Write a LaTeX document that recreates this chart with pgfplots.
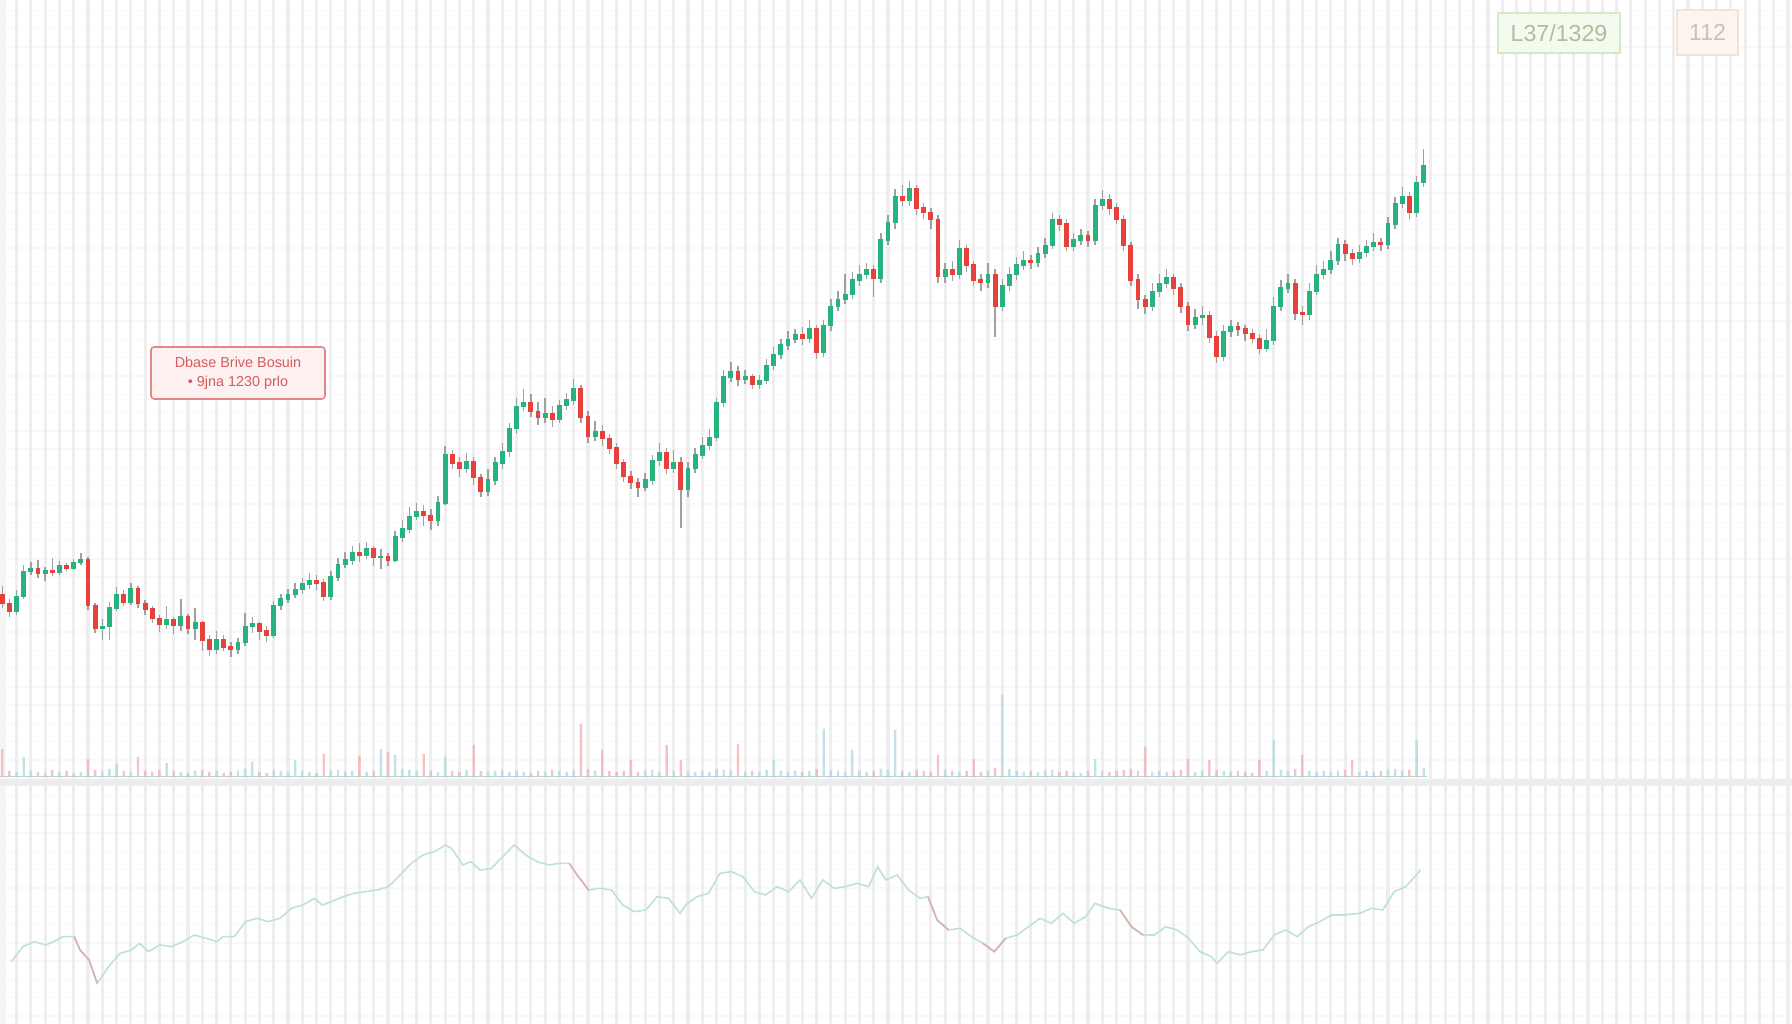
\documentclass[border=0pt]{standalone}
\usepackage{pgfplots}
\usepackage{pgfplotstable}
\pgfplotsset{compat=1.18}
\usepackage{fontspec}
\setmainfont{Liberation Sans}
\definecolor{cgreen}{HTML}{26B37D}
\definecolor{cred}{HTML}{E8413C}
\definecolor{cwick}{HTML}{A0A0A0}
\definecolor{gridv}{HTML}{EEEEEE}
\definecolor{gridh}{HTML}{F8F8F8}
\definecolor{cvolg}{HTML}{A8D6E1}
\definecolor{cvolr}{HTML}{F2AAAA}
\definecolor{cbase}{HTML}{BCD0D6}
\definecolor{gband}{HTML}{EDEDED}
\definecolor{cind}{HTML}{BFE3D2}
\definecolor{cindr}{HTML}{DDB0B0}
\definecolor{lbgreen}{HTML}{D6E9C4}
\definecolor{lbgreenfill}{HTML}{F5FAEF}
\definecolor{ltgreen}{HTML}{AEBE9E}
\definecolor{lborange}{HTML}{F4E1D3}
\definecolor{lborangefill}{HTML}{FCF4EE}
\definecolor{ltorange}{HTML}{CCC0B8}
\definecolor{annborder}{HTML}{E38686}
\definecolor{annfill}{HTML}{FDF1F1}
\definecolor{anntext}{HTML}{D45C5C}

\pgfplotstableread{
i o h l c v
0 480 487 468 472 28
1 472 476 460 465 6
2 465 484 462 478 5
3 478 506 476 500 20
4 500 508 497 502 6
5 502 510 494 498 5
6 498 504 492 501 4
7 501 512 496 499 7
8 499 509 497 505 5
9 505 507 500 503 6
10 503 511 501 508 4
11 508 516 506 510 5
12 510 513 466 470 18
13 470 472 446 450 7
14 450 458 440 452 6
15 452 473 440 468 8
16 468 486 465 480 13
17 480 484 470 473 6
18 473 490 471 485 5
19 485 487 468 472 20
20 472 475 462 467 6
21 467 470 455 459 5
22 459 462 447 454 7
23 454 470 450 458 14
24 458 460 445 453 6
25 453 476 448 460 5
26 460 463 445 450 4
27 450 468 440 455 6
28 455 457 430 440 7
29 440 444 426 432 5
30 432 448 428 440 6
31 440 444 430 434 4
32 434 438 425 432 5
33 432 442 428 438 6
34 438 464 435 452 8
35 452 460 446 454 15
36 454 456 440 448 5
37 448 452 438 444 4
38 444 474 442 470 7
39 470 480 466 476 6
40 476 485 472 480 5
41 480 490 477 484 17
42 484 494 480 489 6
43 489 499 485 492 5
44 492 497 484 490 4
45 490 493 474 478 23
46 478 500 475 495 6
47 495 512 492 506 7
48 506 517 503 510 5
49 510 522 506 516 6
50 516 525 508 514 21
51 514 526 511 520 5
52 520 522 505 512 6
53 512 520 502 513 28
54 513 516 505 510 25
55 510 535 508 530 22
56 530 545 526 537 8
57 537 556 534 548 7
58 548 560 545 552 6
59 552 558 540 549 23
60 549 555 536 545 6
61 545 566 540 560 5
62 560 610 558 602 20
63 602 606 590 595 6
64 595 600 583 590 5
65 590 604 586 596 7
66 596 600 576 582 32
67 582 585 565 570 6
68 570 590 566 580 5
69 580 600 576 595 6
70 595 612 590 605 7
71 605 630 600 625 5
72 625 652 620 644 6
73 644 660 640 648 5
74 648 655 635 640 4
75 640 648 628 635 6
76 635 652 630 638 5
77 638 645 626 633 7
78 633 650 630 645 6
79 645 656 641 650 5
80 650 668 646 660 7
81 660 663 630 635 53
82 635 640 612 618 8
83 618 632 614 622 6
84 622 628 610 616 27
85 616 620 603 608 6
86 608 612 590 595 5
87 595 598 578 583 6
88 583 588 572 578 17
89 578 582 565 574 5
90 574 586 570 580 6
91 580 602 576 597 7
92 597 612 592 604 5
93 604 608 585 590 32
94 590 606 586 595 6
95 595 600 538 572 17
96 572 596 565 590 6
97 590 608 586 602 5
98 602 618 598 610 6
99 610 625 606 617 5
100 617 652 614 648 8
101 648 676 644 670 7
102 670 683 666 675 6
103 675 680 662 668 33
104 668 676 664 670 5
105 670 673 660 664 6
106 664 672 660 667 5
107 667 686 664 680 7
108 680 696 676 690 17
109 690 703 686 698 6
110 698 710 694 703 5
111 703 712 700 707 6
112 707 714 698 704 5
113 704 720 700 712 6
114 712 716 686 692 8
115 692 720 688 715 48
116 715 738 710 732 7
117 732 745 728 738 6
118 738 760 734 742 5
119 742 762 738 755 27
120 755 768 750 760 6
121 760 770 756 764 5
122 764 768 740 756 6
123 756 796 752 790 8
124 790 812 786 805 7
125 805 835 800 828 47
126 828 838 820 825 6
127 825 842 820 835 5
128 835 838 812 818 7
129 818 822 808 814 6
130 814 818 800 808 5
131 808 812 752 758 22
132 758 770 752 764 7
133 764 772 754 760 6
134 760 790 756 782 5
135 782 786 762 768 6
136 768 772 750 755 18
137 755 760 745 753 5
138 753 770 748 760 6
139 760 765 705 732 9
140 732 756 728 750 82
141 750 766 745 760 8
142 760 775 755 768 6
143 768 780 764 772 5
144 772 777 765 770 6
145 770 784 766 778 5
146 778 792 774 785 6
147 785 814 782 808 7
148 808 812 798 804 5
149 804 808 780 784 6
150 784 796 780 790 5
151 790 800 786 794 4
152 794 798 784 790 6
153 790 826 786 820 18
154 820 834 816 825 6
155 825 830 812 818 5
156 818 822 804 808 6
157 808 812 780 785 7
158 785 788 750 755 8
159 755 760 730 738 6
160 738 742 725 732 30
161 732 752 728 745 5
162 745 760 740 752 6
163 752 765 748 757 5
164 757 760 742 748 6
165 748 752 726 732 7
166 732 736 710 716 18
167 716 730 712 722 5
168 722 732 716 724 6
169 724 728 700 705 17
170 705 710 682 688 7
171 688 716 684 710 6
172 710 720 705 714 5
173 714 718 706 712 6
174 712 716 702 708 5
175 708 712 700 704 4
176 704 708 690 695 17
177 695 712 692 702 6
178 702 740 698 732 37
179 732 755 728 748 7
180 748 760 744 752 6
181 752 756 720 726 8
182 726 732 716 725 22
183 725 752 720 745 6
184 745 768 742 760 5
185 760 772 756 764 6
186 764 780 760 772 5
187 772 792 768 786 6
188 786 790 772 778 7
189 778 782 768 774 17
190 774 786 770 779 5
191 779 790 775 784 6
192 784 796 780 788 5
193 788 792 780 786 6
194 786 810 782 804 7
195 804 828 800 822 8
196 822 836 818 828 6
197 828 832 808 814 7
198 814 846 810 840 37
199 840 870 836 855 9
}\candles

\begin{document}
\begin{tikzpicture}[x=1pt,y=1pt]
\fill[white] (0,0) rectangle (448,256);
% background grid: faint horizontals, stronger verticals
\foreach \k in {0,...,55} \draw[gridh, line width=0.35pt] (0,{2+\k*4.571}) -- (448,{2+\k*4.571});
\foreach \k in {0,...,125} \draw[gridv, line width=0.8pt] ({0.571+\k*3.5714},0) -- ({0.571+\k*3.5714},256);
\fill[black!4] (0,0) rectangle (1.6,256);
% ---------- price panel ----------
\begin{axis}[at={(0pt,0pt)}, anchor=south west, scale only axis,
  width=448pt, height=256pt,
  xmin=-0.32, xmax=250.56, ymin=104, ymax=1000, hide axis]
 % wicks
 \addplot[draw=none, mark=none,
   error bars/.cd, y dir=both, y explicit, error mark=none,
   error bar style={line width=0.35pt, draw=cwick}]
   table[x=i, y expr={0.5*(\thisrow{h}+\thisrow{l})},
         y error expr={0.5*(\thisrow{h}-\thisrow{l})}] \candles;
 % up bodies
 \addplot[draw=none, mark=none,
   error bars/.cd, y dir=both, y explicit, error mark=none,
   error bar style={line width=1.2pt, draw=cgreen}]
   table[x=i, y expr={\thisrow{c}>=\thisrow{o} ? 0.5*(\thisrow{o}+\thisrow{c}) : nan},
         y error expr={0.5*abs(\thisrow{c}-\thisrow{o})+0.6}] \candles;
 % down bodies
 \addplot[draw=none, mark=none,
   error bars/.cd, y dir=both, y explicit, error mark=none,
   error bar style={line width=1.2pt, draw=cred}]
   table[x=i, y expr={\thisrow{c}<\thisrow{o} ? 0.5*(\thisrow{o}+\thisrow{c}) : nan},
         y error expr={0.5*abs(\thisrow{c}-\thisrow{o})+0.6}] \candles;
\end{axis}
% ---------- volume panel ----------
\fill[gband] (0,59.6) rectangle (448,61.2);
\begin{axis}[at={(0pt,61.75pt)}, anchor=south west, scale only axis,
  width=448pt, height=25pt,
  xmin=-0.32, xmax=250.56, ymin=0, ymax=100, hide axis]
 \addplot[ybar, bar shift=0pt, bar width=0.6pt, draw=none, fill=cvolg, fill opacity=0.7]
   table[x=i, y expr={\thisrow{c}>=\thisrow{o} ? \thisrow{v} : nan}] \candles;
 \addplot[ybar, bar shift=0pt, bar width=0.6pt, draw=none, fill=cvolr, fill opacity=0.7]
   table[x=i, y expr={\thisrow{c}<\thisrow{o} ? \thisrow{v} : nan}] \candles;
 \draw[cbase, line width=0.5pt] (axis cs:-0.32,0) -- (axis cs:199.4,0);
\end{axis}
% ---------- indicator panel ----------
\begin{axis}[at={(0pt,9.33pt)}, anchor=south west, scale only axis,
  width=448pt, height=41.67pt,
  xmin=0, xmax=1568, ymin=0, ymax=500, hide axis]
 \addplot[cind, line width=0.4pt] coordinates {
 (10,75) (20,120) (30,135) (40,125) (50,140) (55,150) (65,150) (70,110) (78,80) (85,10)
 (95,60) (105,100) (115,110) (122,130) (130,105) (140,125) (150,120) (160,135) (170,155)
 (180,145) (190,135) (195,150) (205,150) (215,195) (225,205) (235,195) (245,205) (255,235)
 (265,245) (275,265) (282,245) (290,255) (300,270) (310,280) (320,285) (330,290) (340,300)
 (350,335) (360,370) (370,395) (380,405) (390,425) (395,415) (405,365) (412,375) (420,350)
 (430,355) (440,390) (450,425) (460,395) (470,375) (480,365) (490,370) (498,370) (505,335)
 (515,290) (525,295) (535,290) (545,245) (555,225) (565,230) (575,270) (585,265) (595,220)
 (600,245) (610,270) (620,280) (630,340) (640,345) (650,330) (660,285) (670,275) (680,300)
 (690,285) (700,320) (710,265) (720,320) (730,295) (740,300) (750,310) (760,300) (768,360)
 (775,320) (785,335) (795,290) (805,265) (812,270) (820,200) (830,170) (840,175) (850,150)
 (860,130) (870,105) (880,145) (890,155) (900,180) (910,205) (920,190) (930,220) (940,190)
 (950,210) (958,250) (970,235) (980,230) (990,180) (1000,155) (1010,155) (1020,180)
 (1030,170) (1040,145) (1050,105) (1060,90) (1065,70) (1075,105) (1085,95) (1095,105)
 (1105,110) (1115,155) (1125,170) (1135,150) (1145,180) (1155,195) (1165,215) (1175,215)
 (1190,220) (1200,235) (1210,230) (1220,285) (1230,300) (1238,330) (1243,350)};
 \addplot[cindr, line width=0.4pt] coordinates {(65,150) (70,110) (78,80) (85,10)};
 \addplot[cindr, line width=0.4pt] coordinates {(498,370) (505,335) (515,290)};
 \addplot[cindr, line width=0.4pt] coordinates {(812,270) (820,200) (830,170)};
 \addplot[cindr, line width=0.4pt] coordinates {(860,130) (870,105) (880,145)};
 \addplot[cindr, line width=0.4pt] coordinates {(980,230) (990,180) (1000,155)};
\end{axis}
% ---------- labels ----------
\node[draw=lbgreen, fill=lbgreenfill, line width=0.6pt, minimum width=30.5pt,
  minimum height=10pt, inner sep=0pt, text=ltgreen,
  font=\fontsize{5.8}{7}\selectfont] at (389.75,247.75) {L37/1329};
\node[draw=lborange, fill=lborangefill, line width=0.5pt, minimum width=15.25pt,
  minimum height=11.25pt, inner sep=0pt, text=ltorange,
  font=\fontsize{5.8}{7}\selectfont] at (426.9,247.9) {112};
\node[draw=annborder, fill=annfill, rounded corners=0.8pt, line width=0.4pt,
  minimum width=43.5pt, minimum height=13pt, inner sep=0pt, align=center,
  text=anntext, font=\fontsize{3.6}{4.8}\selectfont] at (59.5,162.75)
  {Dbase Brive Bosuin\\• 9jna 1230 prlo};
\pgfresetboundingbox
\path[use as bounding box] (0,0) rectangle (448,256);
\end{tikzpicture}
\end{document}
